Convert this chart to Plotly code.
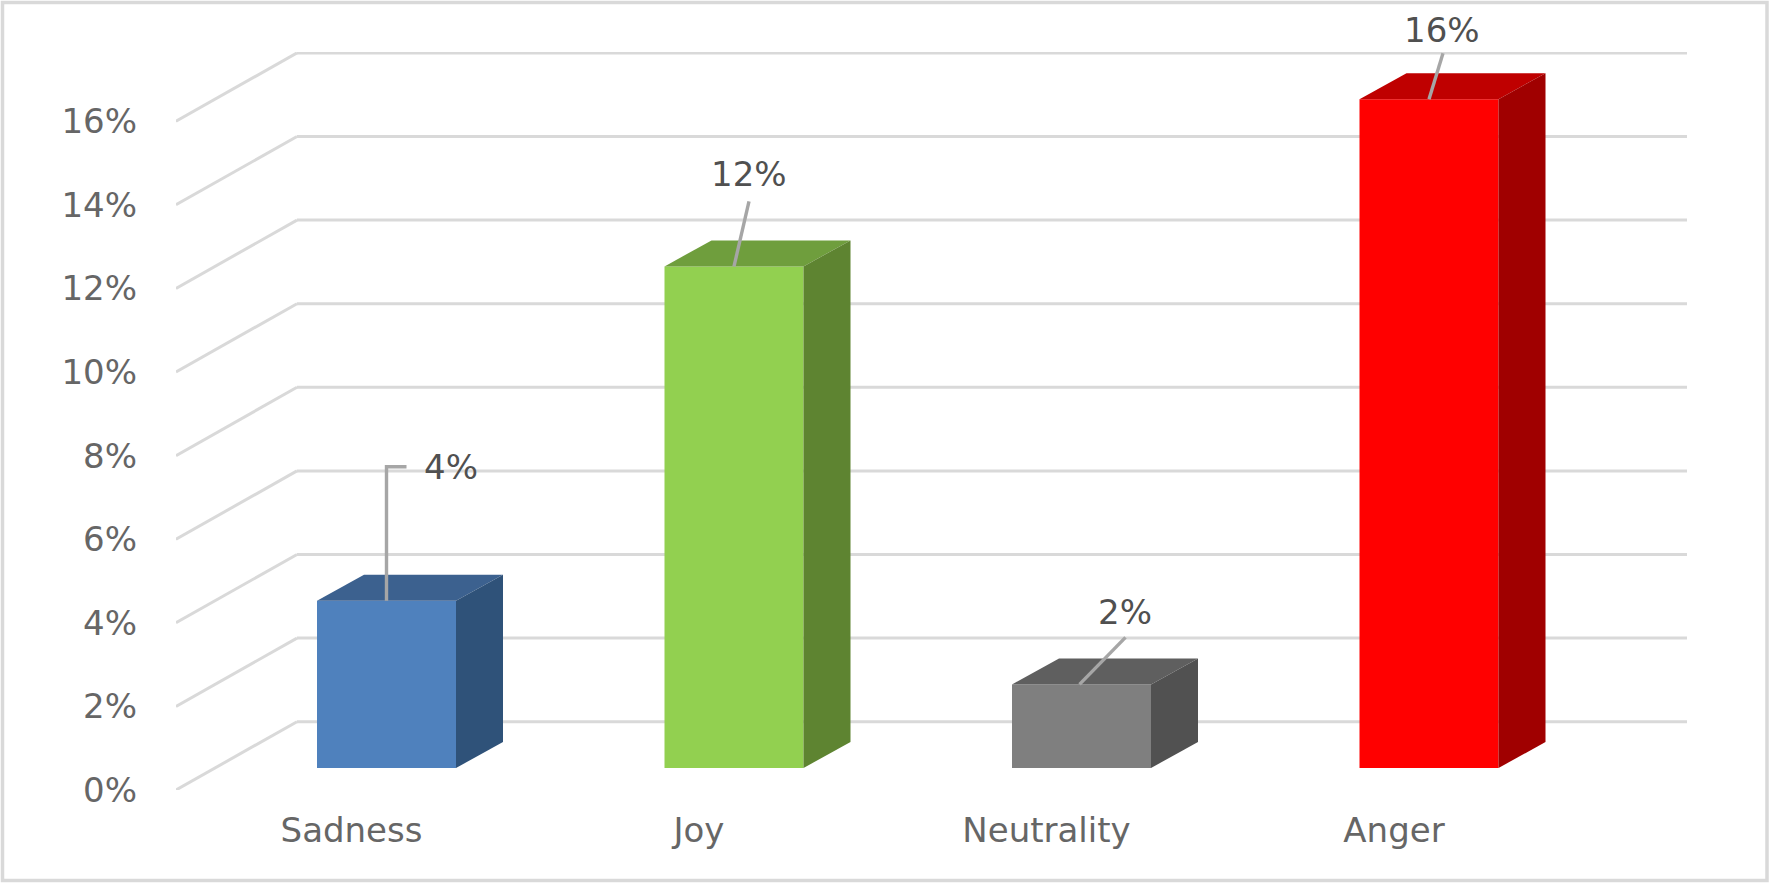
import plotly.graph_objects as go

# --- data ---
categories = ["Sadness", "Joy", "Neutrality", "Anger"]
values = [4, 12, 2, 16]
y_ticks = [0, 2, 4, 6, 8, 10, 12, 14, 16]
y_tick_labels = ["0%", "2%", "4%", "6%", "8%", "10%", "12%", "14%", "16%"]
value_labels = ["4%", "12%", "2%", "16%"]
front_colors = ["#4f81bd", "#92d050", "#7f7f7f", "#ff0000"]
top_colors = ["#3c618f", "#6f9e3d", "#5f5f5f", "#bf0000"]
side_colors = ["#2f5279", "#5e8431", "#515151", "#a00000"]

# --- pixel geometry of the plot ---
W, H = 1770, 883
L, R, T, B = 176, 1687, 52, 790     # plot box: front-left wall edge .. back-right end
PX_X = 347.5                        # pixels per category
PX_Y = 41.8                         # pixels per percentage point
X0 = 386.5                          # pixel x of the first category centre
x_range = [(L - X0) / PX_X, (R - X0) / PX_X]
y_range = [0, (B - T) / PX_Y]

WALL_DX, WALL_DY = 121 / PX_X, 68.3 / PX_Y   # depth of the side wall
BAR_DX, BAR_DY = 47 / PX_X, 26 / PX_Y        # depth of each bar
FLOOR = 22 / PX_Y                            # bar foot above the front floor edge
BAR_W = 0.4
LABEL_SHIFT = -35 / PX_X                     # category labels sit left of the bars

# leader lines as pixel offsets from the top of the front face, then label offset
leaders = [
    [(0, 0), (0, 134), (20, 134)],
    [(0, 0), (15, 65)],
    [(-2, 0), (44, 47)],
    [(0, 0), (14, 46)],
]
label_offsets = [(64, 134), (15, 92), (43, 72), (13, 69)]

LABEL_FONT = "DejaVu Sans"
FONT_SIZE = 34
fig = go.Figure()

# front faces
fig.add_trace(go.Bar(
    x=list(range(len(categories))), y=values, base=FLOOR, width=BAR_W,
    marker=dict(color=front_colors, line=dict(width=0)),
    hoverinfo="skip", showlegend=False,
))

# top and side faces, derived from each value
for i, v in enumerate(values):
    xl, xr = i - BAR_W / 2, i + BAR_W / 2
    yb, yt = FLOOR, FLOOR + v
    fig.add_trace(go.Scatter(
        x=[xl, xr, xr + BAR_DX, xl + BAR_DX, xl],
        y=[yt, yt, yt + BAR_DY, yt + BAR_DY, yt],
        mode="lines", fill="toself", fillcolor=top_colors[i],
        line=dict(width=0), hoverinfo="skip", showlegend=False, cliponaxis=False,
    ))
    fig.add_trace(go.Scatter(
        x=[xr, xr + BAR_DX, xr + BAR_DX, xr, xr],
        y=[yb, yb + BAR_DY, yt + BAR_DY, yt, yb],
        mode="lines", fill="toself", fillcolor=side_colors[i],
        line=dict(width=0), hoverinfo="skip", showlegend=False, cliponaxis=False,
    ))

# leader lines and value labels
annotations = []
for i, v in enumerate(values):
    top = FLOOR + v
    fig.add_trace(go.Scatter(
        x=[i + dx / PX_X for dx, _ in leaders[i]],
        y=[top + dy / PX_Y for _, dy in leaders[i]],
        mode="lines", line=dict(color="#a6a6a6", width=3.4),
        hoverinfo="skip", showlegend=False, cliponaxis=False,
    ))
    annotations.append(dict(
        x=i, y=top, xref="x", yref="y", text=value_labels[i], showarrow=False,
        xshift=label_offsets[i][0], yshift=label_offsets[i][1],
        font=dict(family=LABEL_FONT, size=FONT_SIZE, color="#505050"),
    ))

# gridlines: side wall plus back wall, one per tick, under the bars
shapes = []
grid = dict(color="#d9d9d9", width=3)
for t in y_ticks:
    xb, yb = x_range[0] + WALL_DX, t + WALL_DY
    shapes.append(dict(type="line", xref="x", yref="y", layer="below",
                       x0=x_range[0], y0=t, x1=xb, y1=yb, line=grid))
    shapes.append(dict(type="line", xref="x", yref="y", layer="below",
                       x0=xb, y0=yb, x1=x_range[1], y1=yb, line=grid))

# outer frame
px = lambda v: (v - L) / (R - L)
py = lambda v: (B - v) / (B - T)
shapes.append(dict(type="rect", xref="paper", yref="paper", layer="below",
                   x0=px(2.5), x1=px(1767), y0=py(2.5), y1=py(880.5),
                   line=dict(color="#d9d9d9", width=3.5)))

fig.update_layout(
    width=W, height=H, margin=dict(l=L, r=W - R, t=T, b=H - B, autoexpand=False),
    paper_bgcolor="white", plot_bgcolor="rgba(0,0,0,0)", showlegend=False,
    shapes=shapes, annotations=annotations, barmode="overlay",
    xaxis=dict(
        range=x_range, showgrid=False, zeroline=False, showline=False, ticks="",
        tickmode="array", tickvals=[i + LABEL_SHIFT for i in range(len(categories))],
        ticktext=categories, ticklabelstandoff=17,
        tickfont=dict(family=LABEL_FONT, size=FONT_SIZE, color="#666666"),
    ),
    yaxis=dict(
        range=y_range, showgrid=False, zeroline=False, showline=False, ticks="",
        tickmode="array", tickvals=y_ticks, ticktext=y_tick_labels, ticklabelstandoff=38,
        tickfont=dict(family=LABEL_FONT, size=FONT_SIZE, color="#666666"),
    ),
)

fig.write_html("out.html", post_script="document.body.style.margin='0';",
               config={"displayModeBar": False})
